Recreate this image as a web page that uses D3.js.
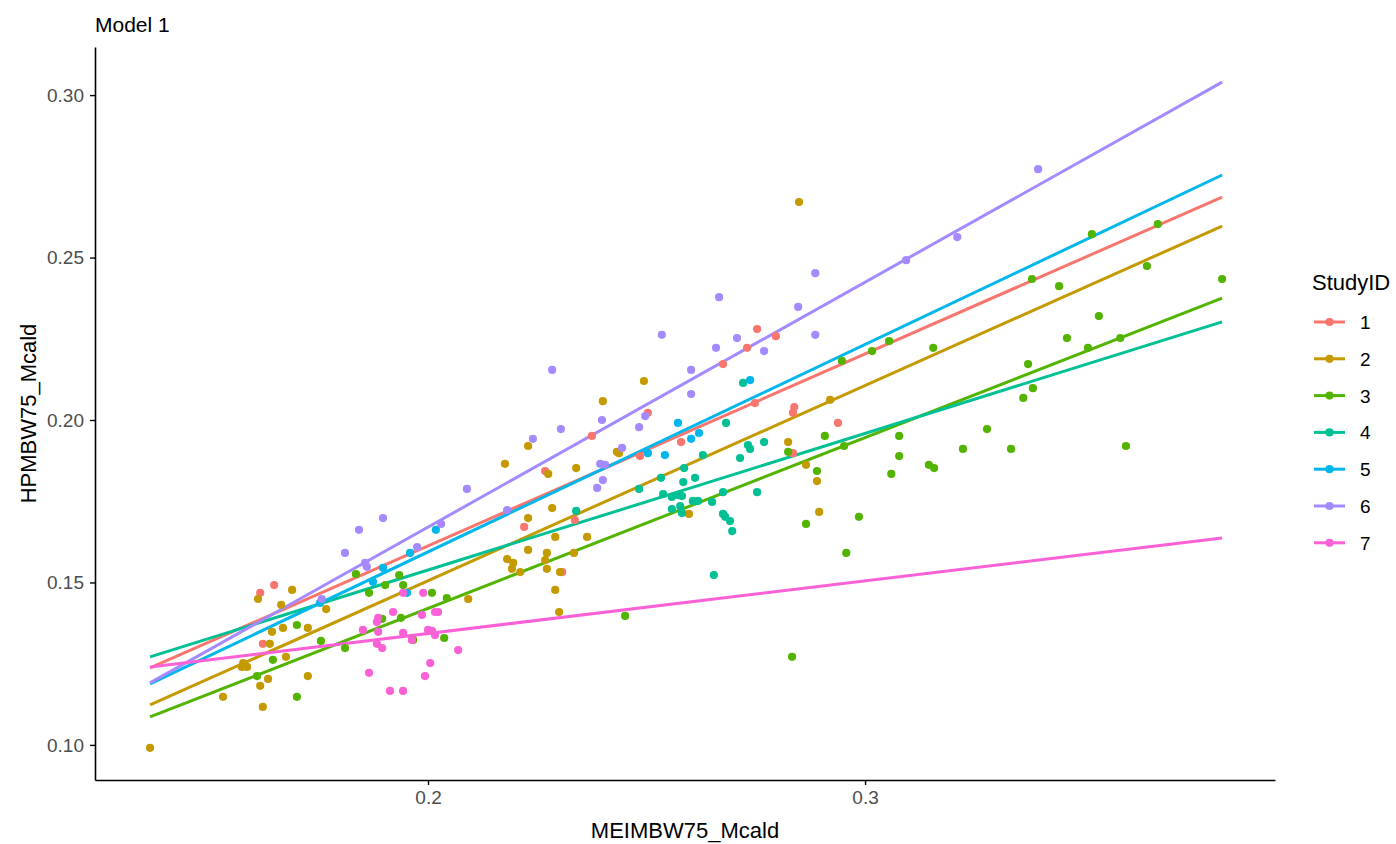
<!DOCTYPE html>
<html>
<head>
<meta charset="utf-8">
<script src="https://cdn.jsdelivr.net/npm/d3@7"></script>
<style>
  body { margin: 0; background: #fff; }
  svg { display: block; font-family: "Liberation Sans", Arial, sans-serif; }
  .tick text { fill: #4d4d4d; font-size: 19px; }
  .tick line, .domain { stroke: #000; }
</style>
</head>
<body>
<svg id="chart" width="1396" height="844"></svg>
<script>
// study ids and ggplot hue colours
const studies = ['1', '2', '3', '4', '5', '6', '7'];
const colors = ['#F8766D', '#C49A00', '#53B400', '#00C094', '#00B6EB', '#A58AFF', '#FB61D7'];

// observed points, [MEIMBW75_Mcald, HPMBW75_Mcald]
const study1 = [[0.1616,0.1468],[0.1648,0.1492],[0.1622,0.1311],[0.2503,0.2022],[0.2375,0.1951],
  [0.2268,0.1843],[0.2220,0.1671],[0.2336,0.1692],[0.2307,0.1532],[0.2579,0.1932],[0.2485,0.1889],
  [0.2753,0.2280],[0.2796,0.2258],[0.2730,0.2222],[0.2675,0.2172],[0.2748,0.2052],[0.2838,0.2040],
  [0.2835,0.2022],[0.2938,0.1991],[0.2835,0.1898]];
const study2 = [[0.1364,0.0991],[0.1611,0.1449],[0.1689,0.1477],[0.1664,0.1431],[0.1643,0.1348],
  [0.1668,0.1360],[0.1725,0.1360],[0.1638,0.1311],[0.1675,0.1271],[0.1577,0.1252],[0.1586,0.1240],
  [0.1574,0.1240],[0.1725,0.1212],[0.1634,0.1203],[0.1616,0.1182],[0.1531,0.1148],[0.1622,0.1117],
  [0.1767,0.1418],[0.2176,0.1865],[0.2092,0.1449],[0.2181,0.1572],[0.2195,0.1560],[0.2192,0.1542],
  [0.2494,0.2120],[0.2400,0.2058],[0.2229,0.1920],[0.2275,0.1834],[0.2339,0.1852],[0.2432,0.1902],
  [0.2437,0.1898],[0.2284,0.1729],[0.2229,0.1698],[0.2291,0.1640],[0.2364,0.1640],[0.2229,0.1600],
  [0.2272,0.1591],[0.2268,0.1569],[0.2211,0.1532],[0.2272,0.1542],[0.2302,0.1532],[0.2291,0.1477],
  [0.2300,0.1409],[0.2334,0.1591],[0.2597,0.1711],[0.2824,0.1932],[0.2865,0.1862],[0.2890,0.1812],
  [0.2895,0.1717],[0.2849,0.2671],[0.2920,0.2062]];
const study3 = [[0.1700,0.1369],[0.1755,0.1320],[0.1645,0.1262],[0.1609,0.1212],[0.1700,0.1148],
  [0.1835,0.1526],[0.1934,0.1523],[0.1865,0.1468],[0.1902,0.1492],[0.1943,0.1492],[0.2009,0.1468],
  [0.2043,0.1452],[0.1810,0.1298],[0.1895,0.1388],[0.1938,0.1391],[0.1966,0.1323],[0.2037,0.1329],
  [0.2451,0.1397],[0.2833,0.1271],[0.2908,0.1951],[0.2824,0.1902],[0.2890,0.1843],[0.2865,0.1680],
  [0.2986,0.1702],[0.2957,0.1591],[0.2952,0.1920],[0.2947,0.2182],[0.3016,0.2212],[0.3055,0.2243],
  [0.3156,0.2222],[0.3382,0.2434],[0.3444,0.2412],[0.3519,0.2572],[0.3645,0.2474],[0.3670,0.2603],
  [0.3817,0.2434],[0.3535,0.2320],[0.3462,0.2252],[0.3510,0.2222],[0.3584,0.2252],[0.3373,0.2172],
  [0.3384,0.2098],[0.3362,0.2068],[0.3078,0.1951],[0.3279,0.1972],[0.3078,0.1889],[0.3224,0.1911],
  [0.3334,0.1911],[0.3060,0.1834],[0.3146,0.1862],[0.3158,0.1852],[0.3597,0.1920]];
const study4 = [[0.2721,0.2114],[0.2682,0.1991],[0.2732,0.1923],[0.2737,0.1911],[0.2769,0.1932],
  [0.2714,0.1883],[0.2629,0.1892],[0.2586,0.1852],[0.2584,0.1809],[0.2611,0.1822],[0.2581,0.1766],
  [0.2606,0.1751],[0.2618,0.1751],[0.2650,0.1748],[0.2675,0.1778],[0.2753,0.1778],[0.2675,0.1711],
  [0.2680,0.1702],[0.2691,0.1689],[0.2696,0.1658],[0.2654,0.1523],[0.2581,0.1714],[0.2339,0.1720],
  [0.2483,0.1788],[0.2533,0.1822],[0.2538,0.1772],[0.2558,0.1763],[0.2572,0.1769],[0.2558,0.1726],
  [0.2577,0.1735]];
const study5 = [[0.2018,0.1662],[0.1959,0.1591],[0.1897,0.1545],[0.1874,0.1502],[0.1952,0.1468],
  [0.1753,0.1437],[0.2572,0.1991],[0.2602,0.1942],[0.2542,0.1892],[0.2503,0.1898],[0.2620,0.1960],
  [0.2737,0.2123]];
const study6 = [[0.3396,0.2772],[0.3211,0.2563],[0.3094,0.2492],[0.2886,0.2452],[0.2666,0.2378],
  [0.2847,0.2348],[0.2707,0.2252],[0.2659,0.2222],[0.2769,0.2212],[0.2886,0.2262],[0.2602,0.2154],
  [0.2602,0.2080],[0.2535,0.2262],[0.2284,0.2154],[0.2304,0.1972],[0.2240,0.1942],[0.2398,0.2000],
  [0.2483,0.1978],[0.2497,0.2012],[0.2444,0.1914],[0.2394,0.1865],[0.2405,0.1862],[0.2400,0.1815],
  [0.2387,0.1791],[0.2181,0.1723],[0.2089,0.1788],[0.1897,0.1698],[0.1842,0.1662],[0.1810,0.1591],
  [0.2030,0.1680],[0.1975,0.1609],[0.1856,0.1560],[0.1860,0.1548],[0.1757,0.1449]];
const study7 = [[0.1989,0.1468],[0.1943,0.1468],[0.1920,0.1409],[0.1886,0.1391],[0.1883,0.1378],
  [0.1986,0.1400],[0.2016,0.1409],[0.2023,0.1409],[0.1851,0.1354],[0.1886,0.1348],[0.1943,0.1345],
  [0.1963,0.1323],[0.2000,0.1354],[0.2009,0.1351],[0.2016,0.1338],[0.1883,0.1311],[0.1895,0.1298],
  [0.2069,0.1292],[0.2005,0.1252],[0.1865,0.1222],[0.1993,0.1212],[0.1913,0.1166],[0.1943,0.1166]];
const points = [study1, study2, study3, study4, study5, study6, study7];

// fitted lines: predicted HPMBW75 at the smallest and largest MEIMBW75
const fitX = [0.1364, 0.3817];
const fitStart = [0.1237, 0.1123, 0.1086, 0.1271, 0.1188, 0.1191, 0.1240];
const fitEnd = [0.2686, 0.2597, 0.2375, 0.2302, 0.2754, 0.3040, 0.1637];

const xTicks = [0.2, 0.3];
const yTicks = [0.10, 0.15, 0.20, 0.25, 0.30];

const margin = {top: 47, right: 121, bottom: 64, left: 95};
const width = 1396, height = 844;
const svg = d3.select('#chart');

const x = d3.scaleLinear()
  .domain([0.1238, 0.3938])
  .range([margin.left, width - margin.right]);
const y = d3.scaleLinear()
  .domain([0.0892, 0.3148])
  .range([height - margin.bottom, margin.top]);

// axes
svg.append('g')
  .attr('transform', 'translate(0,' + (height - margin.bottom) + ')')
  .call(d3.axisBottom(x).tickValues(xTicks).tickFormat(d3.format('.1f')).tickSize(5).tickSizeOuter(0).tickPadding(6));
svg.append('g')
  .attr('transform', 'translate(' + margin.left + ',0)')
  .call(d3.axisLeft(y).tickValues(yTicks).tickFormat(d3.format('.2f')).tickSize(5).tickSizeOuter(0).tickPadding(6));
svg.selectAll('.domain').attr('stroke-width', 1.6);
svg.selectAll('.tick line').attr('stroke-width', 1.4).attr('stroke', '#333');

// fitted lines
const line = d3.line().x(d => x(d[0])).y(d => y(d[1]));
svg.append('g')
  .selectAll('path')
  .data(studies.map((s, i) => [[fitX[0], fitStart[i]], [fitX[1], fitEnd[i]]]))
  .join('path')
  .attr('d', line)
  .attr('fill', 'none')
  .attr('stroke', (d, i) => colors[i])
  .attr('stroke-width', 3);

// points
studies.forEach((s, i) => {
  svg.append('g')
    .selectAll('circle')
    .data(points[i])
    .join('circle')
    .attr('cx', d => x(d[0]))
    .attr('cy', d => y(d[1]))
    .attr('r', 4.1)
    .attr('fill', colors[i]);
});

// titles
svg.append('text')
  .attr('x', margin.left)
  .attr('y', 32)
  .style('font-size', '21px')
  .text('Model 1');
svg.append('text')
  .attr('x', (margin.left + width - margin.right) / 2)
  .attr('y', 838)
  .attr('text-anchor', 'middle')
  .style('font-size', '22px')
  .text('MEIMBW75_Mcald');
svg.append('text')
  .attr('transform', 'translate(36,' + ((margin.top + height - margin.bottom) / 2) + ') rotate(-90)')
  .attr('text-anchor', 'middle')
  .style('font-size', '22px')
  .text('HPMBW75_Mcald');

// legend
const legend = svg.append('g');
legend.append('text')
  .attr('x', 1312)
  .attr('y', 290)
  .style('font-size', '22px')
  .text('StudyID');
const item = legend.selectAll('g.item')
  .data(studies)
  .join('g')
  .attr('class', 'item')
  .attr('transform', (d, i) => 'translate(0,' + (322 + i * 36.8) + ')');
item.append('line')
  .attr('x1', 1314).attr('x2', 1345)
  .attr('stroke', (d, i) => colors[i])
  .attr('stroke-width', 3);
item.append('circle')
  .attr('cx', 1329.5)
  .attr('r', 4.1)
  .attr('fill', (d, i) => colors[i]);
item.append('text')
  .attr('x', 1360)
  .attr('y', 7)
  .style('font-size', '19px')
  .text(d => d);
</script>
</body>
</html>
